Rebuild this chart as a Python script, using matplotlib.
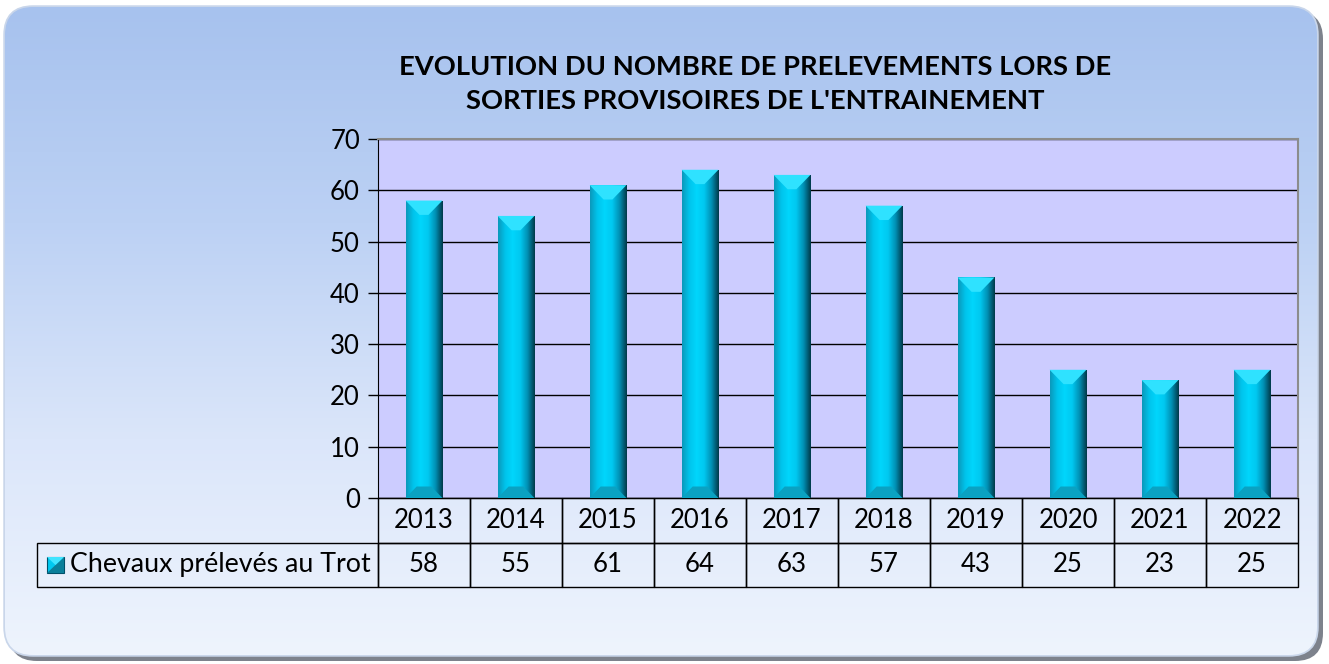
import numpy as np
import matplotlib
matplotlib.use("Agg")
import matplotlib.pyplot as plt
from matplotlib.patches import FancyBboxPatch, Polygon, Rectangle
from matplotlib.colors import LinearSegmentedColormap
from matplotlib.table import Table

# data
years = ["2013", "2014", "2015", "2016", "2017", "2018", "2019", "2020", "2021", "2022"]
counts = [58, 55, 61, 64, 63, 57, 43, 25, 23, 25]
series_label = "Chevaux prélevés au Trot"
title = "EVOLUTION DU NOMBRE DE PRELEVEMENTS LORS DE\nSORTIES PROVISOIRES DE L'ENTRAINEMENT"

plt.rcParams["font.family"] = ["Lato", "DejaVu Sans"]

W, H = 1329, 664
fig = plt.figure(figsize=(W / 100, H / 100), dpi=100)

# -----------------------------------------------------------------------------
# rounded panel behind the chart (pixel coordinates)
# -----------------------------------------------------------------------------
bg = fig.add_axes([0, 0, 1, 1])
bg.set_xlim(0, W)
bg.set_ylim(H, 0)
bg.axis("off")

shadow = FancyBboxPatch((9, 11), 1314, 650, boxstyle="round,pad=0,rounding_size=28",
                        facecolor="#7d828c", edgecolor="none")
bg.add_patch(shadow)
panel = FancyBboxPatch((5, 7), 1312, 648, boxstyle="round,pad=0,rounding_size=28",
                       facecolor="#b8cef3", edgecolor="#c9d6ea", linewidth=2.5)
bg.add_patch(panel)
panel_cmap = LinearSegmentedColormap.from_list("panel", ["#a7c2ee", "#bcd1f4", "#dbe6fa", "#eef4fd"])
grad = np.linspace(0, 1, 256).reshape(-1, 1)
im = bg.imshow(grad, cmap=panel_cmap, extent=(5, 1317, 655, 7), aspect="auto", zorder=1)
im.set_clip_path(panel)
bg.set_xlim(0, W)
bg.set_ylim(H, 0)

# legend key in front of the row label
bg.add_patch(Rectangle((47, 557), 17, 16, facecolor="#00c8f0", edgecolor="#00506a", lw=0.8, zorder=3))
bg.add_patch(Polygon([(47, 573), (64, 557), (64, 573)], closed=True,
                     facecolor="#0a7f9a", edgecolor="none", zorder=3))
bg.add_patch(Polygon([(47, 557), (64, 557), (55.5, 565)], closed=True,
                     facecolor="#40e4ff", edgecolor="none", zorder=3))

fig.text(755 / W, 1 - 84 / H, title, ha="center", va="center", fontsize=19.7,
         fontweight="bold", linespacing=1.5, color="black")

# -----------------------------------------------------------------------------
# bar chart
# -----------------------------------------------------------------------------
left, right, top, bottom = 378, 1298, 139, 498
ax = fig.add_axes([left / W, 1 - bottom / H, (right - left) / W, (bottom - top) / H])
ax.set_facecolor("#ccccff")

x = np.arange(len(years))
bars = ax.bar(x, counts, width=0.4, color="#00c8f0", zorder=2)

bar_cmap = LinearSegmentedColormap.from_list(
    "bar", ["#0b98ba", "#00c4ec", "#00d6fc", "#00c8f0", "#0090b4", "#003848"])
hgrad = np.linspace(0, 1, 256).reshape(1, -1)
for b in bars:
    x0, w, h = b.get_x(), b.get_width(), b.get_height()
    g = ax.imshow(hgrad, cmap=bar_cmap, extent=(x0, x0 + w, 0, h), aspect="auto", zorder=3)
    g.set_clip_path(b)
    d = 2.8
    # top bevel
    ax.add_patch(Polygon([(x0, h), (x0 + w, h), (x0 + w * 0.62, h - d), (x0 + w * 0.38, h - d)],
                         closed=True, facecolor="#2fe2ff", edgecolor="none", zorder=4))
    # bottom bevel
    ax.add_patch(Polygon([(x0, 0), (x0 + w, 0), (x0 + w * 0.7, d * 0.8), (x0 + w * 0.3, d * 0.8)],
                         closed=True, facecolor="#0aa2c2", edgecolor="none", zorder=4))

ax.set_xlim(-0.5, len(years) - 0.5)
ax.set_ylim(0, 70)
ax.set_yticks(np.arange(0, 71, 10))
ax.tick_params(axis="y", labelsize=18.5, length=7, width=1, color="black", direction="out", pad=6)
ax.set_xticks([])
ax.grid(axis="y", color="black", linewidth=1, zorder=1)
ax.set_axisbelow(True)
for side in ["top", "right"]:
    ax.spines[side].set_color("#8c8c8c")
    ax.spines[side].set_linewidth(1.5)
ax.spines["left"].set_color("black")
ax.spines["bottom"].set_color("black")

# -----------------------------------------------------------------------------
# data table under the axis
# -----------------------------------------------------------------------------
ax_w = right - left
ax_h = bottom - top
lab_w = (378 - 37) / ax_w
tbl_h = (587 - 498) / ax_h
# bbox covers the year columns only; the label column sits to its left
tbl = Table(ax, bbox=[0, -tbl_h, 1, tbl_h])
col_w = 1 / len(years)
for j, yr in enumerate(years):
    tbl.add_cell(0, j, width=col_w, height=tbl_h / 2, text=yr, loc="center")
    tbl.add_cell(1, j, width=col_w, height=tbl_h / 2, text=str(counts[j]), loc="center")
lab = tbl.add_cell(1, -1, width=lab_w, height=tbl_h / 2, text=series_label, loc="left")
lab.PAD = 0.097
tbl.auto_set_font_size(False)
tbl.set_fontsize(18.5)
lab.get_text().set_fontsize(19.3)
for cell in tbl.get_celld().values():
    cell.set_facecolor("none")
    cell.set_edgecolor("black")
    cell.set_linewidth(1)
ax.add_table(tbl)

fig.savefig("out.png", dpi=100)
